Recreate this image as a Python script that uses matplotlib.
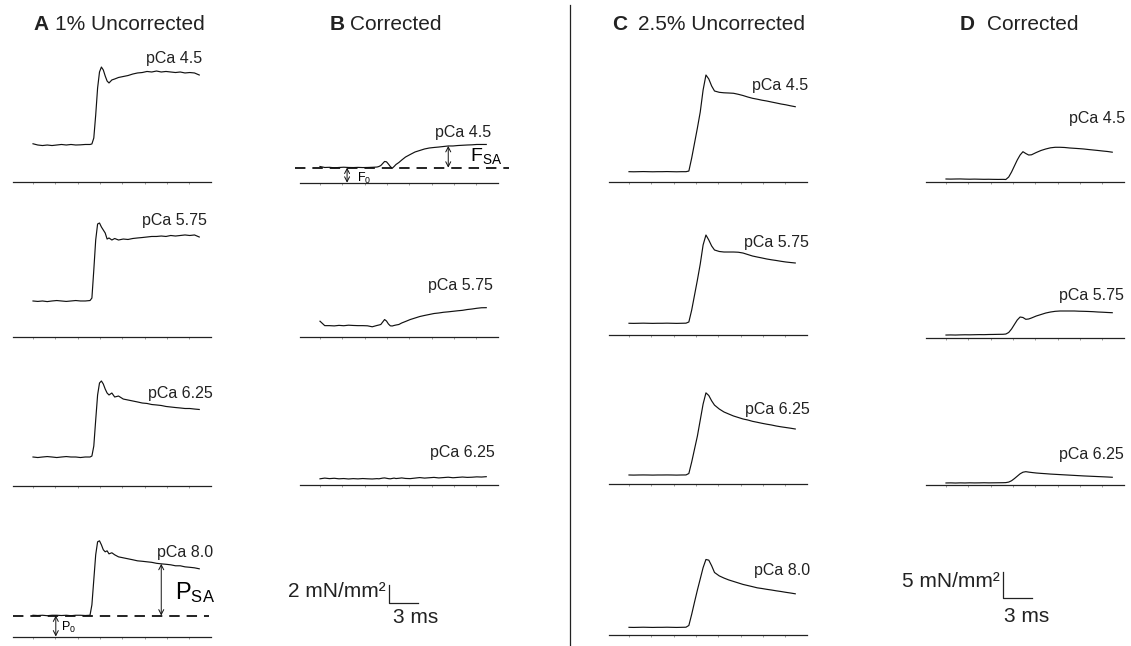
import numpy as np
import matplotlib
matplotlib.use("Agg")
import matplotlib.pyplot as plt
from matplotlib.lines import Line2D

plt.rcParams['font.family'] = ['Liberation Sans', 'DejaVu Sans']
plt.rcParams['lines.scale_dashes'] = False

# ---- data: force traces (mN/mm^2) vs time (ms) ----
t_left = [0, 0.5, 1, 1.5, 2, 2.5, 3, 3.5, 4, 4.5, 5, 5.5, 6,
          6.2, 6.4, 6.6, 6.8, 7.0, 7.2, 7.4, 7.6, 7.8, 8.0, 8.3, 8.6,
          9, 9.5, 10, 10.5, 11, 11.5, 12, 12.5, 13, 13.5, 14, 14.5, 15,
          15.5, 16, 16.5, 17, 17.5]

# A: 1% dextran, uncorrected
a_45 = [4.32, 4.18, 4.12, 4.18, 4.12, 4.18, 4.24, 4.18, 4.24, 4.18, 4.20, 4.24, 4.24,
        4.30, 4.97, 7.57, 10.62, 12.43, 12.99, 12.66, 11.98, 11.41, 11.19, 11.53, 11.64,
        11.81, 11.92, 12.03, 12.20, 12.32, 12.37, 12.49, 12.43, 12.54, 12.43, 12.49, 12.43,
        12.37, 12.43, 12.32, 12.37, 12.32, 12.09]
a_575 = [4.07, 4.02, 4.07, 4.00, 4.07, 4.12, 4.07, 4.02, 4.07, 4.12, 4.07, 4.07, 4.12,
         4.40, 7.57, 10.96, 12.77, 12.88, 12.43, 12.09, 11.75, 11.07, 11.19, 10.96, 11.13,
         10.96, 11.07, 11.02, 11.13, 11.19, 11.24, 11.30, 11.36, 11.36, 11.41, 11.36, 11.47,
         11.41, 11.47, 11.53, 11.47, 11.53, 11.30]
a_625 = [3.22, 3.16, 3.22, 3.27, 3.22, 3.16, 3.22, 3.27, 3.22, 3.22, 3.16, 3.22, 3.22,
         3.33, 4.46, 7.40, 10.23, 11.58, 11.81, 11.47, 10.90, 10.45, 10.23, 10.45, 10.00,
         10.11, 9.77, 9.66, 9.55, 9.44, 9.32, 9.27, 9.15, 9.10, 9.04, 8.93, 8.87,
         8.81, 8.76, 8.70, 8.70, 8.64, 8.59]
a_80 = [2.40, 2.37, 2.40, 2.35, 2.40, 2.40, 2.37, 2.40, 2.35, 2.40, 2.40, 2.37, 2.40,
        3.58, 6.41, 9.23, 10.70, 10.81, 10.36, 9.80, 9.57, 9.68, 9.34, 9.46, 9.23,
        9.00, 8.89, 8.78, 8.67, 8.55, 8.50, 8.44, 8.38, 8.27, 8.21, 8.16, 8.10,
        7.99, 7.99, 7.87, 7.82, 7.76, 7.65]

# B: 1% dextran, corrected
b_45 = [1.83, 1.72, 1.74, 1.68, 1.72, 1.75, 1.72, 1.71, 1.73, 1.71, 1.72, 1.74, 1.77,
        1.83, 1.94, 2.17, 2.40, 2.36, 2.11, 1.83, 1.63, 1.83, 2.06, 2.28, 2.56,
        2.90, 3.19, 3.47, 3.64, 3.81, 3.92, 3.98, 4.03, 4.09, 4.15, 4.15, 4.20,
        4.23, 4.26, 4.28, 4.32, 4.32, 4.32]
b_575 = [1.75, 1.25, 1.25, 1.22, 1.28, 1.24, 1.30, 1.27, 1.25, 1.25, 1.23, 1.12, 1.27,
         1.32, 1.38, 1.66, 1.94, 1.77, 1.44, 1.23, 1.21, 1.27, 1.32, 1.38, 1.55,
         1.72, 1.94, 2.11, 2.28, 2.40, 2.51, 2.62, 2.68, 2.76, 2.81, 2.87, 2.93,
         2.98, 3.07, 3.13, 3.21, 3.27, 3.28]
b_625 = [0.70, 0.78, 0.72, 0.76, 0.70, 0.73, 0.68, 0.72, 0.69, 0.73, 0.70, 0.68, 0.72,
         0.70, 0.74, 0.78, 0.80, 0.76, 0.72, 0.70, 0.74, 0.78, 0.73, 0.76, 0.80,
         0.74, 0.72, 0.78, 0.84, 0.78, 0.82, 0.86, 0.80, 0.84, 0.88, 0.82, 0.86,
         0.90, 0.86, 0.88, 0.92, 0.90, 0.94]

t_right = [0, 0.5, 1, 1.5, 2, 2.5, 3, 3.5, 4, 4.5, 5, 5.5, 6,
           6.3, 6.6, 6.9, 7.2, 7.5, 7.8, 8.1, 8.4, 8.7, 9.0,
           9.5, 10, 10.5, 11, 11.5, 12, 12.5, 13, 13.5, 14, 14.5, 15,
           15.5, 16, 16.5, 17, 17.5]

# C: 2.5% dextran, uncorrected
c_45 = [1.88, 1.86, 1.88, 1.90, 1.88, 1.86, 1.88, 1.88, 1.90, 1.88, 1.86, 1.88, 1.88,
        2.00, 4.45, 7.26, 10.08, 13.08, 17.20, 20.02, 19.27, 17.95, 17.02,
        16.77, 16.68, 16.64, 16.59, 16.40, 16.17, 15.89, 15.65, 15.48, 15.29, 15.14, 14.95,
        14.77, 14.58, 14.43, 14.24, 14.07]
c_575 = [2.20, 2.18, 2.20, 2.22, 2.20, 2.18, 2.20, 2.20, 2.22, 2.20, 2.18, 2.20, 2.22,
         2.44, 4.69, 7.50, 10.32, 13.32, 16.89, 18.76, 17.82, 16.70, 15.95,
         15.67, 15.57, 15.57, 15.57, 15.53, 15.38, 15.10, 14.82, 14.63, 14.45, 14.26, 14.11,
         13.98, 13.83, 13.70, 13.60, 13.51]
c_625 = [1.69, 1.67, 1.69, 1.70, 1.69, 1.67, 1.69, 1.69, 1.70, 1.69, 1.67, 1.69, 1.70,
         1.97, 4.13, 6.57, 9.00, 12.00, 15.00, 17.10, 16.60, 15.60, 14.80,
         14.07, 13.51, 13.13, 12.76, 12.48, 12.20, 12.01, 11.76, 11.58, 11.39, 11.22, 11.07,
         10.88, 10.73, 10.60, 10.47, 10.32]
c_80 = [1.44, 1.42, 1.44, 1.46, 1.44, 1.42, 1.44, 1.44, 1.46, 1.44, 1.42, 1.44, 1.46,
        1.79, 3.89, 6.20, 8.44, 10.53, 12.64, 14.17, 14.04, 12.99, 11.73,
        11.09, 10.68, 10.33, 10.05, 9.77, 9.49, 9.28, 9.07, 8.85, 8.72, 8.57, 8.44,
        8.29, 8.16, 8.01, 7.88, 7.73]

# D: 2.5% dextran, corrected
d_45 = [0.62, 0.60, 0.62, 0.63, 0.60, 0.58, 0.60, 0.58, 0.56, 0.57, 0.55, 0.54, 0.55,
        0.53, 0.99, 1.93, 3.06, 4.18, 5.12, 5.74, 5.40, 5.12, 5.16,
        5.59, 5.97, 6.25, 6.47, 6.57, 6.57, 6.53, 6.44, 6.38, 6.32, 6.25, 6.15,
        6.06, 5.97, 5.87, 5.78, 5.65]
d_575 = [0.50, 0.52, 0.50, 0.53, 0.55, 0.54, 0.56, 0.58, 0.57, 0.60, 0.61, 0.63, 0.64,
         0.69, 0.98, 1.63, 2.48, 3.32, 3.88, 3.79, 3.45, 3.51, 3.70,
         4.07, 4.35, 4.63, 4.82, 4.95, 5.01, 5.01, 5.01, 5.01, 4.97, 4.95, 4.92,
         4.88, 4.82, 4.78, 4.73, 4.69]
d_625 = [0.38, 0.40, 0.37, 0.40, 0.38, 0.41, 0.39, 0.40, 0.42, 0.40, 0.41, 0.42, 0.43,
         0.45, 0.55, 0.80, 1.20, 1.65, 2.10, 2.40, 2.50, 2.42, 2.35,
         2.25, 2.18, 2.12, 2.05, 2.00, 1.95, 1.90, 1.85, 1.80, 1.75, 1.70, 1.66,
         1.62, 1.58, 1.54, 1.50, 1.45]

p0_level = 2.37     # passive force before activation (A, pCa 8.0)
f0_level = 1.70     # corrected passive force (B, pCa 4.5)
scale_left = 2      # mN/mm^2
scale_right = 5     # mN/mm^2
scale_time = 3      # ms

# ---- layout ----
W, H = 1131, 646
KX = 9.5                      # px per ms
KY_L, KY_R = 8.85, 5.33       # px per mN/mm^2
BASE_LO, BASE_HI = -2.1, 18.7
TICKS = np.arange(8) * 2.35

fig = plt.figure(figsize=(W / 100, H / 100), dpi=100)


def px_axes(x0, base, ky, left=30, right=200, up=150, down=15):
    ax = fig.add_axes([(x0 - left) / W, 1 - (base + down) / H,
                       (left + right) / W, (up + down) / H])
    ax.set_xlim(-left / KX, right / KX)
    ax.set_ylim(-down / ky, up / ky)
    ax.patch.set_alpha(0)
    for s in ['top', 'right', 'left', 'bottom']:
        ax.spines[s].set_visible(False)
    ax.set_xticks([])
    ax.set_yticks([])
    return ax


def trace_panel(x0, base, ky, t, y):
    ax = px_axes(x0, base, ky)
    sp = ax.spines['bottom']
    sp.set_visible(True)
    sp.set_position(('data', 0))
    sp.set_bounds(BASE_LO, BASE_HI)
    sp.set_linewidth(0.9)
    sp.set_color('#222222')
    ax.set_xticks(TICKS)
    ax.tick_params(axis='x', direction='out', length=1.5, width=0.5,
                   color='#777777', labelbottom=False)
    ax.plot(t, y, color='#111111', lw=0.85)
    return ax


def ftext(x, y, s, **kw):
    fig.text(x / W, 1 - y / H, s, **kw)


panels = [
    (33, 182.0, KY_L, t_left, a_45, 'pCa 4.5', 202, 63),
    (33, 337.0, KY_L, t_left, a_575, 'pCa 5.75', 207, 225),
    (33, 485.5, KY_L, t_left, a_625, 'pCa 6.25', 213, 398),
    (33, 636.5, KY_L, t_left, a_80, 'pCa 8.0', 213, 557),
    (320, 182.7, KY_L, t_left, b_45, 'pCa 4.5', 491, 137),
    (320, 336.7, KY_L, t_left, b_575, 'pCa 5.75', 493, 290),
    (320, 485.0, KY_L, t_left, b_625, 'pCa 6.25', 495, 457),
    (629, 181.7, KY_R, t_right, c_45, 'pCa 4.5', 808, 90),
    (629, 335.0, KY_R, t_right, c_575, 'pCa 5.75', 809, 247),
    (629, 484.0, KY_R, t_right, c_625, 'pCa 6.25', 810, 414),
    (629, 635.0, KY_R, t_right, c_80, 'pCa 8.0', 810, 575),
    (946, 182.3, KY_R, t_right, d_45, 'pCa 4.5', 1125, 123),
    (946, 337.7, KY_R, t_right, d_575, 'pCa 5.75', 1124, 300),
    (946, 485.0, KY_R, t_right, d_625, 'pCa 6.25', 1124, 459),
]

axes = []
for x0, base, ky, t, y, lab, lx, ly in panels:
    axes.append(trace_panel(x0, base, ky, t, y))
    ftext(lx, ly, lab, fontsize=11.5, ha='right', va='baseline', color='#222222')

arrow_kw = dict(arrowstyle='<->,head_length=0.35,head_width=0.18', lw=0.7,
                color='#111111', shrinkA=0, shrinkB=0, mutation_scale=10)

# A, pCa 8.0: passive level P0 and stretch activation PSA
ax_a4 = axes[3]
ax_a4.plot([BASE_LO, 18.5], [p0_level, p0_level], color='#111111', lw=1.3,
           linestyle=(0, (7.5, 5)))
ax_a4.annotate('', xy=(2.4, 0), xytext=(2.4, p0_level), arrowprops=arrow_kw)
t_psa = 13.5
ax_a4.annotate('', xy=(t_psa, p0_level), xytext=(t_psa, a_80[t_left.index(t_psa)]),
               arrowprops=arrow_kw)
ftext(175, 599, r'$\mathregular{P_{SA}}$', fontsize=17, va='baseline')
ftext(61, 631, r'$\mathregular{P_0}$', fontsize=9, va='baseline')

# B, pCa 4.5: F0 and FSA
ax_b1 = axes[4]
ax_b1.plot([-2.6, 19.9], [f0_level, f0_level], color='#111111', lw=1.3,
           linestyle=(0, (7.5, 5)))
ax_b1.annotate('', xy=(2.85, 0), xytext=(2.85, f0_level), arrowprops=arrow_kw)
t_fsa = 13.5
ax_b1.annotate('', xy=(t_fsa, f0_level), xytext=(t_fsa, b_45[t_left.index(t_fsa)]),
               arrowprops=arrow_kw)
ftext(470, 161, r'$\mathregular{F_{SA}}$', fontsize=14, va='baseline')
ftext(357, 182, r'$\mathregular{F_0}$', fontsize=9, va='baseline')

# scale bars
sb_l = px_axes(389, 602.7, KY_L)
sb_l.plot([0, 0, scale_time], [scale_left, 0, 0], color='#222222', lw=0.9)
ftext(386, 597, '2 mN/mm\u00b2', fontsize=15, ha='right', va='baseline', color='#222222')
ftext(393, 623, '3 ms', fontsize=15, ha='left', va='baseline', color='#222222')

sb_r = px_axes(1003.3, 598.3, KY_R)
sb_r.plot([0, 0, scale_time], [scale_right, 0, 0], color='#222222', lw=0.9)
ftext(1000, 587, '5 mN/mm\u00b2', fontsize=15, ha='right', va='baseline', color='#222222')
ftext(1004, 622, '3 ms', fontsize=15, ha='left', va='baseline', color='#222222')

# panel titles
for lx, letter, tx, title in [(33, 'A', 55, '1% Uncorrected'),
                              (330, 'B', 350, 'Corrected'),
                              (612, 'C', 638, '2.5% Uncorrected'),
                              (960, 'D', 987, 'Corrected')]:
    ftext(lx, 30, letter, fontsize=15, fontweight='bold', va='baseline', color='#222222')
    ftext(tx, 30, title, fontsize=15, va='baseline', color='#222222')

# divider between the two dextran conditions
fig.add_artist(Line2D([570 / W, 570 / W], [1 - 5 / H, 1 - 645 / H],
                      transform=fig.transFigure, color='#222222', lw=0.9))

fig.savefig('out.png', dpi=100)
